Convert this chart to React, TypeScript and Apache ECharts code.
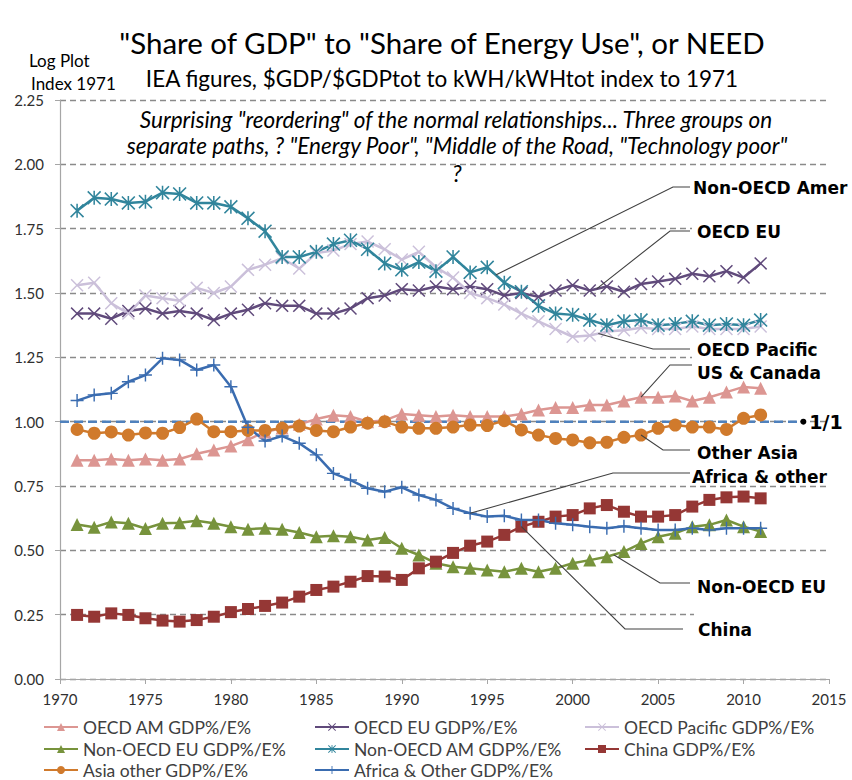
import React, { useEffect, useRef } from 'react';
import * as echarts from 'echarts';

const years = [
  1971, 1972, 1973, 1974, 1975, 1976, 1977, 1978, 1979, 1980,
  1981, 1982, 1983, 1984, 1985, 1986, 1987, 1988, 1989, 1990,
  1991, 1992, 1993, 1994, 1995, 1996, 1997, 1998, 1999, 2000,
  2001, 2002, 2003, 2004, 2005, 2006, 2007, 2008, 2009, 2010, 2011,
];

const oecdAm = [
  0.85, 0.85, 0.855, 0.85, 0.855, 0.85, 0.855, 0.875, 0.89, 0.905,
  0.93, 0.96, 0.975, 0.99, 1.01, 1.025, 1.02, 1.0, 1.005, 1.03,
  1.025, 1.02, 1.025, 1.02, 1.02, 1.02, 1.03, 1.045, 1.055, 1.055,
  1.065, 1.065, 1.08, 1.095, 1.095, 1.1, 1.08, 1.095, 1.115, 1.135, 1.13,
];

const oecdEu = [
  1.42, 1.42, 1.40, 1.43, 1.44, 1.42, 1.43, 1.42, 1.395, 1.42,
  1.435, 1.46, 1.45, 1.45, 1.42, 1.42, 1.44, 1.48, 1.49, 1.515,
  1.51, 1.525, 1.515, 1.525, 1.515, 1.49, 1.50, 1.485, 1.51, 1.53,
  1.51, 1.525, 1.505, 1.535, 1.545, 1.555, 1.575, 1.565, 1.585, 1.56, 1.615,
];

const oecdPacific = [
  1.53, 1.54, 1.46, 1.42, 1.49, 1.48, 1.47, 1.52, 1.50, 1.525,
  1.59, 1.61, 1.635, 1.595, 1.655, 1.665, 1.69, 1.70, 1.67, 1.63,
  1.66, 1.60, 1.56, 1.50, 1.48, 1.455, 1.42, 1.39, 1.36, 1.33,
  1.335, 1.35, 1.355, 1.365, 1.36, 1.36, 1.37, 1.36, 1.36, 1.36, 1.37,
];

const nonOecdEu = [
  0.60, 0.59, 0.61, 0.605, 0.585, 0.605, 0.607, 0.615, 0.605, 0.592,
  0.582, 0.586, 0.582, 0.569, 0.553, 0.557, 0.553, 0.54, 0.55, 0.508,
  0.482, 0.45, 0.436, 0.43, 0.424, 0.417, 0.43, 0.417, 0.43, 0.45,
  0.462, 0.475, 0.495, 0.527, 0.553, 0.566, 0.592, 0.599, 0.618, 0.592, 0.573,
];

const nonOecdAm = [
  1.82, 1.87, 1.865, 1.85, 1.855, 1.89, 1.885, 1.85, 1.85, 1.835,
  1.79, 1.74, 1.64, 1.64, 1.66, 1.69, 1.705, 1.67, 1.615, 1.59,
  1.62, 1.585, 1.64, 1.58, 1.60, 1.54, 1.505, 1.45, 1.42, 1.415,
  1.395, 1.375, 1.39, 1.395, 1.375, 1.38, 1.39, 1.375, 1.38, 1.375, 1.395,
];

const china = [
  0.249, 0.242, 0.255, 0.249, 0.236, 0.227, 0.223, 0.229, 0.242, 0.26,
  0.272, 0.284, 0.297, 0.32, 0.346, 0.359, 0.378, 0.40, 0.398, 0.385,
  0.43, 0.456, 0.49, 0.518, 0.534, 0.56, 0.592, 0.611, 0.631, 0.637,
  0.663, 0.676, 0.65, 0.631, 0.631, 0.637, 0.67, 0.696, 0.706, 0.709, 0.702,
];

const asiaOther = [
  0.97, 0.955, 0.96, 0.948, 0.956, 0.955, 0.977, 1.01, 0.961, 0.961,
  0.966, 0.966, 0.974, 0.983, 0.966, 0.961, 0.979, 0.994, 1.0, 0.979,
  0.974, 0.974, 0.979, 0.987, 0.985, 1.004, 0.968, 0.948, 0.935, 0.929,
  0.918, 0.92, 0.939, 0.948, 0.974, 0.987, 0.979, 0.979, 0.97, 1.013, 1.026,
];

const africa = [
  1.082, 1.104, 1.11, 1.155, 1.181, 1.246, 1.24, 1.201, 1.22, 1.136,
  0.978, 0.925, 0.944, 0.916, 0.871, 0.799, 0.773, 0.741, 0.728, 0.745,
  0.715, 0.696, 0.663, 0.644, 0.631, 0.634, 0.618, 0.618, 0.605, 0.599,
  0.592, 0.586, 0.594, 0.586, 0.579, 0.579, 0.586, 0.579, 0.586, 0.586, 0.586,
];

const parityLine = [
  [1970, 1.0],
  [2013.5, 1.0],
];

const xTicks = { min: 1970, max: 2015, interval: 5 };
const yTicks = { min: 0, max: 2.25, interval: 0.25 };

const X_PATH =
  'path://M0,0.8 L0.8,0 L5,4.2 L9.2,0 L10,0.8 L5.8,5 L10,9.2 L9.2,10 L5,5.8 L0.8,10 L0,9.2 L4.2,5 Z';
const PLUS_PATH =
  'path://M4.45,0 L5.55,0 L5.55,4.45 L10,4.45 L10,5.55 L5.55,5.55 L5.55,10 L4.45,10 L4.45,5.55 L0,5.55 L0,4.45 L4.45,4.45 Z';
const STAR_PATH =
  'path://M0,0.8 L0.8,0 L5,4.2 L9.2,0 L10,0.8 L5.8,5 L10,9.2 L9.2,10 L5,5.8 L0.8,10 L0,9.2 L4.2,5 Z M4.45,0 L5.55,0 L5.55,10 L4.45,10 Z';

const seriesDefs = [
  { name: 'OECD AM GDP%/E%', values: oecdAm, color: '#dc9692', symbol: 'triangle', size: 13 },
  { name: 'OECD EU GDP%/E%', values: oecdEu, color: '#604a7b', symbol: X_PATH, size: 13 },
  { name: 'OECD Pacific GDP%/E%', values: oecdPacific, color: '#cbc0da', symbol: X_PATH, size: 13 },
  { name: 'Non-OECD EU GDP%/E%', values: nonOecdEu, color: '#77933c', symbol: 'triangle', size: 13 },
  { name: 'Non-OECD AM GDP%/E%', values: nonOecdAm, color: '#31859c', symbol: STAR_PATH, size: 14 },
  { name: 'China GDP%/E%', values: china, color: '#953735', symbol: 'rect', size: 12 },
  { name: 'Asia other GDP%/E%', values: asiaOther, color: '#d07a2c', symbol: 'circle', size: 13 },
  { name: 'Africa & Other GDP%/E%', values: africa, color: '#3a6cb0', symbol: PLUS_PATH, size: 13 },
];

// legend placement: [series name, left, top]
const legendSlots: [string, number, number][] = [
  ['OECD AM GDP%/E%', 43, 718],
  ['OECD EU GDP%/E%', 314, 718],
  ['OECD Pacific GDP%/E%', 584, 718],
  ['Non-OECD EU GDP%/E%', 43, 740],
  ['Non-OECD AM GDP%/E%', 314, 740],
  ['China GDP%/E%', 584, 740],
  ['Asia other GDP%/E%', 43, 761],
  ['Africa & Other GDP%/E%', 314, 761],
];

const annotations = [
  { text: 'Non-OECD Amer', values: nonOecdAm, year: 1995.5, elbow: [673, 187], end: [690, 187], pos: [693, 188] },
  { text: 'OECD EU', values: oecdEu, year: 2001.4, elbow: [670, 231], end: [690, 231], pos: [697, 232] },
  { text: 'OECD Pacific', values: oecdPacific, year: 2001.5, elbow: [653, 349], end: [690, 349], pos: [697, 350] },
  { text: 'US & Canada', values: oecdAm, year: 2004, elbow: [670, 365], end: [692, 365], pos: [697, 373] },
  { text: 'Other Asia', values: asiaOther, year: 2004, elbow: [663, 450], end: [690, 450], pos: [697, 453] },
  { text: 'Africa & other', values: africa, year: 1994, elbow: [613, 473], end: [690, 473], pos: [692, 477] },
  { text: 'Non-OECD EU', values: nonOecdEu, year: 2002.4, elbow: [660, 583], end: [690, 583], pos: [697, 587] },
  { text: 'China', values: china, year: 1997, elbow: [625, 629], end: [683, 629], pos: [698, 630] },
];

function interp(values: number[], year: number): number {
  const i = Math.floor(year) - years[0];
  const f = year - Math.floor(year);
  if (f === 0 || i + 1 >= values.length) return values[i];
  return values[i] * (1 - f) + values[i + 1] * f;
}

const BASE_FONT = 'Lato, "Open Sans", sans-serif';
const LABEL_FONT = '"DejaVu Sans", Verdana, sans-serif';

export default function App() {
  const ref = useRef<HTMLDivElement>(null);

  useEffect(() => {
    if (!ref.current) return;
    const chart = echarts.init(ref.current, null, { renderer: 'svg' });

    const lineSeries = seriesDefs.map((d) => ({
      name: d.name,
      type: 'line',
      data: years.map((y, i) => [y, d.values[i]]),
      symbol: d.symbol,
      symbolSize: d.size,
      showAllSymbol: true,
      lineStyle: { color: d.color, width: 2.5 },
      itemStyle: { color: d.color },
      emphasis: { disabled: true },
      z: 3,
    }));

    const parity = {
      name: '1/1',
      type: 'line',
      data: parityLine.map((p, i) =>
        i === parityLine.length - 1
          ? {
              value: p,
              symbol: 'circle',
              symbolSize: 6,
              itemStyle: { color: '#000' },
              label: {
                show: true,
                position: 'right',
                distance: 3,
                formatter: '1/1',
                color: '#000',
                fontFamily: LABEL_FONT,
                fontWeight: 'bold',
                fontSize: 19,
              },
            }
          : { value: p, symbolSize: 0 }
      ),
      lineStyle: { color: '#4f81bd', width: 2.5, type: [9, 5] },
      itemStyle: { color: '#4f81bd' },
      emphasis: { disabled: true },
      z: 2,
    };

    const legends = legendSlots.map(([name, left, top]) => ({
      orient: 'horizontal',
      left,
      top,
      padding: 0,
      itemWidth: 34,
      itemHeight: 10,
      itemGap: 0,
      selectedMode: false,
      data: [name],
      textStyle: { fontFamily: BASE_FONT, fontSize: 17.5, color: '#404040' },
    }));

    const option = {
      animation: false,
      backgroundColor: '#ffffff',
      grid: { left: 60, right: 23, top: 100, bottom: 101, containLabel: false },
      xAxis: {
        type: 'value',
        min: xTicks.min,
        max: xTicks.max,
        interval: xTicks.interval,
        axisLine: { show: true, lineStyle: { color: '#a6a6a6', width: 1.2 } },
        axisTick: { show: true, length: 5, lineStyle: { color: '#a6a6a6' } },
        splitLine: { show: false },
        axisLabel: {
          margin: 12,
          fontFamily: BASE_FONT,
          fontSize: 15,
          color: '#303030',
          formatter: (v: number) => String(v),
        },
      },
      yAxis: {
        type: 'value',
        min: yTicks.min,
        max: yTicks.max,
        interval: yTicks.interval,
        axisLine: { show: true, lineStyle: { color: '#a6a6a6', width: 1.2 } },
        axisTick: { show: true, length: 5, lineStyle: { color: '#a6a6a6' } },
        splitLine: { show: true, lineStyle: { color: '#8a8a8a', width: 1.4, type: [6, 4] } },
        axisLabel: {
          margin: 16,
          fontFamily: BASE_FONT,
          fontSize: 15,
          color: '#303030',
          formatter: (v: number) => v.toFixed(2),
        },
      },
      legend: legends,
      series: [parity, ...lineSeries],
    };

    chart.setOption(option as any);

    const staticGraphics: any[] = [
      {
        type: 'text', x: 442, y: 42, z: 50,
        style: { text: '"Share of GDP" to "Share of Energy Use", or NEED', font: `29.5px ${BASE_FONT}`, fill: '#000', align: 'center', verticalAlign: 'middle' },
      },
      {
        type: 'text', x: 442, y: 78, z: 50,
        style: { text: 'IEA figures, $GDP/$GDPtot to kWH/kWHtot index to 1971', font: `22.5px ${BASE_FONT}`, fill: '#000', align: 'center', verticalAlign: 'middle' },
      },
      {
        type: 'text', x: 29, y: 60, z: 50,
        style: { text: 'Log Plot', font: `17px ${BASE_FONT}`, fill: '#000', align: 'left', verticalAlign: 'middle' },
      },
      {
        type: 'text', x: 31, y: 83, z: 50,
        style: { text: 'Index 1971', font: `17px ${BASE_FONT}`, fill: '#000', align: 'left', verticalAlign: 'middle' },
      },
      {
        type: 'text', x: 456, y: 119, z: 50,
        style: { text: 'Surprising "reordering" of the normal relationships... Three groups on', font: `italic 22.5px ${BASE_FONT}`, fill: '#000', align: 'center', verticalAlign: 'middle' },
      },
      {
        type: 'text', x: 457, y: 145, z: 50,
        style: { text: 'separate paths, ? "Energy Poor", "Middle of the Road, "Technology poor"', font: `italic 22.5px ${BASE_FONT}`, fill: '#000', align: 'center', verticalAlign: 'middle' },
      },
      {
        type: 'text', x: 457, y: 173, z: 50,
        style: { text: '?', font: `italic 22.5px ${BASE_FONT}`, fill: '#000', align: 'center', verticalAlign: 'middle' },
      },
      { type: 'rect', z: 1, shape: { x: 692, y: 220, width: 137, height: 24 }, style: { fill: '#fff' } },
      { type: 'rect', z: 1, shape: { x: 692, y: 342, width: 137, height: 40 }, style: { fill: '#fff' } },
      { type: 'rect', z: 1, shape: { x: 694, y: 606, width: 135, height: 38 }, style: { fill: '#fff' } },
    ];

    const annGraphics: any[] = [];
    annotations.forEach((a) => {
      const v = interp(a.values, a.year);
      const p = chart.convertToPixel({ gridIndex: 0 } as any, [a.year, v]) as number[];
      annGraphics.push({
        type: 'polyline',
        z: 100,
        silent: true,
        shape: { points: [[p[0], p[1]], a.elbow, a.end] },
        style: { stroke: '#404040', lineWidth: 1.1, fill: null },
      });
      annGraphics.push({
        type: 'text',
        z: 100,
        silent: true,
        x: a.pos[0],
        y: a.pos[1],
        style: { text: a.text, font: `bold 17px ${LABEL_FONT}`, fill: '#000', align: 'left', verticalAlign: 'middle' },
      });
    });

    chart.setOption({ graphic: [...staticGraphics, ...annGraphics] } as any);

    return () => chart.dispose();
  }, []);

  return (
    <div
      ref={ref}
      style={{ position: 'absolute', left: 0, top: 0, width: 852, height: 780, background: '#fff' }}
    />
  );
}
